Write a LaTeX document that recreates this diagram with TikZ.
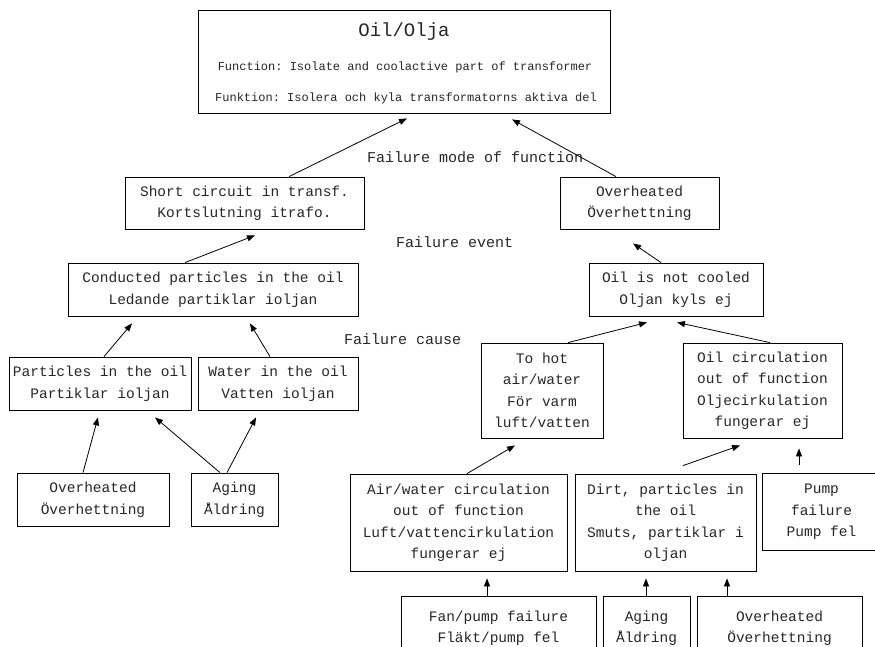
\documentclass[tikz,border=0pt]{standalone}
\usepackage{fontspec}
\setmonofont{Liberation Mono}
\usetikzlibrary{arrows.meta,calc}

\newcommand\boxfont{\ttfamily\fontsize{14.5}{21.5}\selectfont}
\newcommand\lblfont{\ttfamily\fontsize{15}{18}\selectfont}

\tikzset{
  boxline/.style={draw=black, line width=0.8pt},
  box/.style={boxline, inner sep=0pt, align=center,
              font=\boxfont, text=black!85},
  lbl/.style={anchor=west, inner sep=0pt, font=\lblfont, text=black!85},
  ttl/.style={inner sep=0pt, text=black!85},
  arr/.style={draw=black, line width=0.8pt, -{Triangle[length=8pt,width=6pt]}},
}

\begin{document}
\begin{tikzpicture}[x=1pt, y=-1pt]
\useasboundingbox (0,0) rectangle (875,646);

% top level: the component and its function
\node[box, minimum width=412pt, minimum height=103pt] (top) at (404,61.5) {};
\node[ttl, font=\ttfamily\fontsize{19}{22}\selectfont] (topname) at (404,32) {Oil/Olja};
\node[ttl, font=\ttfamily\fontsize{12}{14}\selectfont] (topfn) at (405,67)
  {Function: Isolate and coolactive part of transformer};
\node[ttl, font=\ttfamily\fontsize{12}{14}\selectfont] (topfk) at (406,98)
  {Funktion: Isolera och kyla transformatorns aktiva del};

% level labels
\node[lbl] (lmode)  at (367,157) {Failure mode of function};
\node[lbl] (levent) at (396,242) {Failure event};
\node[lbl] (lcause) at (344,339) {Failure cause};

% failure modes
\node[box, minimum width=239pt, minimum height=52pt] (sc) at (244.5,203)
  {Short circuit in transf.\\Kortslutning itrafo.};
\node[box, minimum width=159pt, minimum height=52pt] (ohR) at (639.5,203)
  {Overheated\\Överhettning};

% failure events
\node[box, minimum width=290pt, minimum height=53pt] (cp) at (213,289.5)
  {Conducted particles in the oil\\Ledande partiklar ioljan};
\node[box, minimum width=174pt, minimum height=53pt] (onc) at (676,289.5)
  {Oil is not cooled\\Oljan kyls ej};

% causes, left branch
\node[box, minimum width=182pt, minimum height=53pt] (pio) at (100,383.5)
  {Particles in the oil\\Partiklar ioljan};
\node[box, minimum width=160pt, minimum height=53pt] (wio) at (278,383.5)
  {Water in the oil\\Vatten ioljan};
\node[box, minimum width=152pt, minimum height=53pt] (ohL) at (93,499.5)
  {Overheated\\Överhettning};
\node[box, minimum width=87pt, minimum height=53pt] (agL) at (234.5,499.5)
  {Aging\\Åldring};

% causes, right branch
\node[box, minimum width=122pt, minimum height=95pt] (th) at (542,390.5)
  {To hot\\air/water\\För varm\\luft/vatten};
\node[box, minimum width=159pt, minimum height=95pt] (oc) at (762.5,390.5)
  {Oil circulation\\out of function\\Oljecirkulation\\fungerar ej};
\node[box, minimum width=217pt, minimum height=97pt] (aw) at (458.5,522.5)
  {Air/water circulation\\out of function\\Luft/vattencirkulation\\fungerar ej};
\node[box, minimum width=181pt, minimum height=97pt] (dirt) at (665.5,522.5)
  {Dirt, particles in\\the oil\\Smuts, partiklar i\\oljan};
% the pump box runs on past the right edge
\node[box, draw=none, minimum width=117pt, minimum height=76pt] (pump) at (821.5,512)
  {Pump\\failure\\Pump fel};
\draw[boxline] (pump.north west) rectangle ($(pump.south east)+(25,0)$);
\node[box, minimum width=195pt, minimum height=64pt] (fan) at (498.5,628)
  {Fan/pump failure\\Fläkt/pump fel};
\node[box, minimum width=87pt, minimum height=64pt] (agR) at (646.5,628)
  {Aging\\Åldring};
\node[box, minimum width=165pt, minimum height=64pt] (ohB) at (779.5,628)
  {Overheated\\Överhettning};

% connectors
\draw[arr] ($(sc.north)+(44.5,0)$)   -- ($(top.south)+(3,5)$);
\draw[arr] ($(ohR.north)+(-23.5,0)$) -- ($(top.south)+(108,6)$);
\draw[arr] ($(cp.north)+(-28,0)$)    -- ($(sc.south)+(10.5,6)$);
\draw[arr] ($(onc.north)+(-15,0)$)   -- ($(ohR.south)+(-6.5,14)$);
\draw[arr] ($(pio.north)+(4,0)$)     -- ($(cp.south)+(-81,7)$);
\draw[arr] ($(wio.north)+(-8,0)$)    -- ($(cp.south)+(37,7)$);
\draw[arr] ($(ohL.north)+(-10,0)$)   -- ($(pio.south)+(-2,7)$);
\draw[arr] ($(agL.north)+(-14.5,0)$) -- ($(pio.south)+(55,7)$);
\draw[arr] ($(agL.north)+(-7.5,0)$)  -- ($(wio.south)+(-22,7)$);
\draw[arr] ($(th.north)+(26,0)$)     -- ($(onc.south)+(-29,6)$);
\draw[arr] ($(oc.north)+(7.5,0)$)    -- ($(onc.south)+(1,6)$);
\draw[arr] ($(aw.north)+(8.5,0)$)    -- ($(th.south)+(-27,7)$);
\draw[arr] ($(dirt.north)+(17.5,-8)$) -- ($(oc.south)+(-22.5,7)$);
\draw[arr] ($(pump.north)+(-22.5,-9)$) -- ($(oc.south)+(36.5,10)$);
\draw[arr] ($(fan.north)+(-11.5,0)$) -- ($(aw.south)+(28.5,7)$);
\draw[arr] ($(agR.north)+(-0.5,0)$)  -- ($(dirt.south)+(-19.5,7)$);
\draw[arr] ($(ohB.north)+(-52.5,0)$) -- ($(dirt.south)+(61.5,7)$);
\end{tikzpicture}
\end{document}
